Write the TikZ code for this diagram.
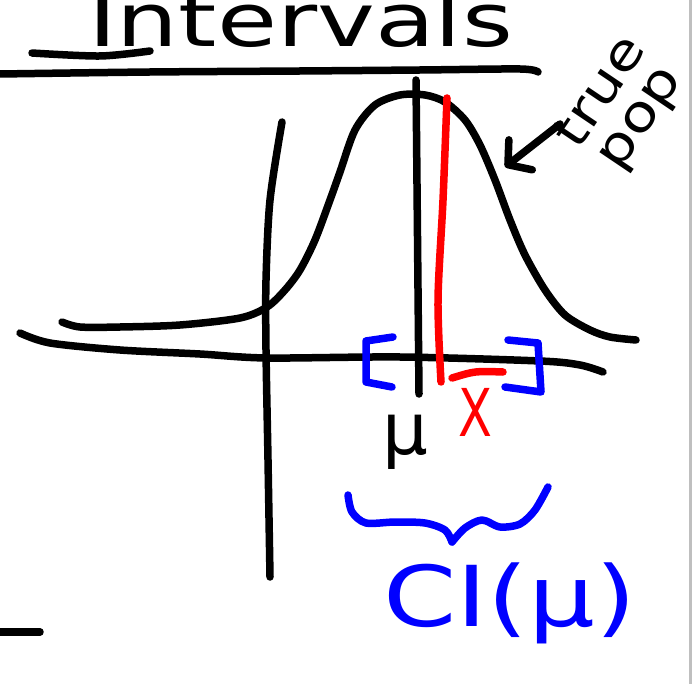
\documentclass[tikz,border=0pt]{standalone}
\usepackage{fontspec}
\setmainfont{DejaVu Sans}
\usepackage{tikz}
\usetikzlibrary{calc, arrows.meta}
\usepackage{tkz-euclide}

\begin{document}
\begin{tikzpicture}[x=1pt, y=-1pt,
    pen/.style={line width=7.5pt, line cap=round, line join=round},
    bluepen/.style={pen, blue},
    redpen/.style={pen, red},
    hand/.style={inner sep=0pt, outer sep=0pt}]
        \useasboundingbox (0,0) rectangle (692,684);
        \tkzDefPoint(416,80){Mtop}
        \tkzDefPoint(419,394){Mbot}
        \tkzDefPoint(560,124){From}
        \tkzDefPoint(505,167){Tip}
        \tkzDefPoint(0,632){Sa}
        \tkzDefPoint(40,632){Sb}
        % title
        \node[hand, anchor=base west, font=\fontsize{74}{74}\selectfont, xscale=1.32] (title) at (88,47) {Intervals};
        \draw[pen] plot[smooth] coordinates {(32,53) (100,56) (150,51)};
        \draw[pen] plot[smooth] coordinates {(0,74) (150,72) (300,71) (420,70) (520,69) (538,72)};
        % axes and curve
        \draw[pen] plot[smooth] coordinates {(282,122) (270,200) (266,280) (266,350) (268,460) (270,577)};
        \draw[pen] plot[smooth] coordinates {(20,333) (50,343) (120,350) (200,354) (267,358) (400,357) (540,361) (580,365) (603,372)};
        \draw[pen] plot[smooth] coordinates {(62,322) (80,327) (120,327) (180,325) (240,318) (267,307) (285,290) (300,270) (315,240) (330,200) (340,172) (355,130) (375,105) (400,95) (425,95) (445,102) (465,120) (480,145) (495,180) (510,220) (525,255) (545,290) (565,315) (590,330) (610,337) (636,340)};
        \tkzDrawSegments[pen](Mtop,Mbot Sa,Sb)
        \draw[redpen] plot[smooth] coordinates {(447,98) (443,200) (438,300) (441,382)};
        % interval
        \draw[bluepen] (393,337) -- (366,341) -- (366,382) -- (392,387);
        \draw[bluepen] (508,340) -- (538,343) -- (541,392) -- (505,387);
        \node[hand, font=\fontsize{72}{72}\selectfont] (mu) at (405,442) {μ};
        \node[hand, red, font=\fontsize{66}{66}\selectfont, xscale=0.75] (xbar) at (475,412) {X};
        \draw[redpen] (452,378) .. controls (475,371) .. (503,372);
        \draw[bluepen] plot[smooth] coordinates {(348,495) (352,512) (366,523) (395,522) (425,523) (445,530) (452,542)};
        \draw[bluepen] plot[smooth] coordinates {(452,542) (465,528) (482,520) (500,527) (520,524) (535,510) (548,487)};
        \node[hand, blue, anchor=base west, font=\fontsize{84}{84}\selectfont, xscale=1.25] (ci) at (383,626) {CI(μ)};
        % label
        \node[hand, rotate=56, align=center, font=\fontsize{50}{46}\selectfont, xscale=1.2] (truepop) at (622,106) {true\\pop};
        \draw[pen, -{Straight Barb[length=16pt, width=38pt, round]}] (From) -- (Tip);
        \fill[gray!50] (688.5,0) rectangle (691.5,684);
\end{tikzpicture}
\end{document}
